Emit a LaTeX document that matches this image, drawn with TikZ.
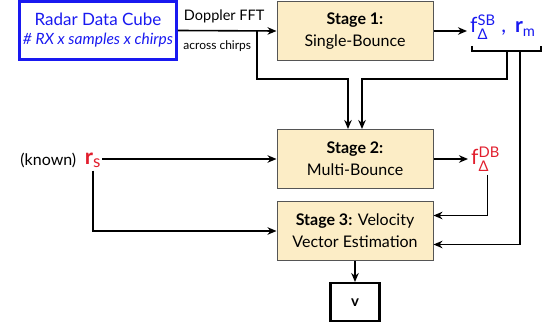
\documentclass[tikz,border=0pt]{standalone}
\usepackage{amsmath}
\usepackage{fontspec}
\setmainfont{Lato}
\usetikzlibrary{
        arrows,
        arrows.meta,
        positioning
    }
\definecolor{cubeblue}{RGB}{25,25,240}
\definecolor{estred}{RGB}{225,30,45}
\definecolor{stagefill}{RGB}{252,237,198}
\definecolor{stageline}{RGB}{85,85,85}
\tikzset{>={Stealth[length=9pt,width=7.5pt]},node distance=2cm}
\tikzset{
    stagebox/.style={draw=stageline, fill=stagefill, line width=1pt,
        minimum width=156pt, minimum height=59pt, align=center, inner sep=2pt,
        font=\fontsize{16}{22}\selectfont},
    cubebox/.style={draw=cubeblue, line width=2.8pt, text=cubeblue,
        minimum width=155pt, minimum height=58pt, align=center,
        font=\fontsize{17}{19}\selectfont},
    outbox/.style={draw, line width=2.4pt, minimum width=49pt, minimum height=38pt,
        font=\fontsize{15}{16}\selectfont\bfseries},
    wire/.style={line width=1.6pt},
    est/.style={font=\fontsize{21}{22}\selectfont, inner sep=3pt}
}

\begin{document}
\begin{tikzpicture}[x=1pt,y=-1pt]
            \useasboundingbox (0,0) rectangle (560,328);
            % input and the three stages
            \node[cubebox] (cube) at (98,30.5)
                {Radar Data Cube\\
                 {\fontsize{15.5}{16}\selectfont\itshape \# RX x samples x chirps}};
            \node[stagebox] (s1) at (355,31) {\textbf{Stage 1:}\\Single-Bounce};
            \node[stagebox, below=68pt of s1] (s2) {\textbf{Stage 2:}\\Multi-Bounce};
            \node[stagebox, below=12pt of s2] (s3) {\textbf{Stage 3:} Velocity\\Vector Estimation};
            \node[outbox, below=21pt of s3] (v) {v};
            % estimates
            \node[est, text=cubeblue, anchor=base west] (sbout) at (467,33)
                {f$^{\text{SB}}_{\text{Δ}}$\;,\, $\mathbf{r}_{\text{m}}$};
            \node[est, text=estred, anchor=base west] (dbout) at (468,165)
                {f$^{\text{DB}}_{\text{Δ}}$};
            \node[font=\fontsize{22}{22}\selectfont, text=estred, inner sep=1pt] (rs) at (93,160)
                {$\mathbf{r}_{\text{\fontsize{17}{17}\selectfont s}}$};
            \node[left=4pt of rs, font=\fontsize{16}{18}\selectfont] (known) {(known)};
            % bracket under the stage 1 outputs
            \draw[line width=1.2pt] (472,46) -- (472,51) -- (541,51) -- (541,46);
            \coordinate (tapf) at (507,51);
            \coordinate (tapr) at (520,51);
            \coordinate (fftsplit) at (257,30.5);
            \coordinate (in2a) at ([xshift=-7pt]s2.north);
            \coordinate (in2b) at ([xshift=7pt]s2.north);
            \coordinate (in3a) at ([yshift=15.5pt]s3.east);
            \coordinate (in3b) at ([yshift=-13.5pt]s3.east);
            \draw[wire,->] (cube.east) -- node[above=4pt, pos=0.47, font=\fontsize{14.5}{16}\selectfont] {Doppler FFT}
                node[below=6pt, pos=0.4, font=\fontsize{12}{14}\selectfont] {across chirps} (s1.west);
            \draw[wire,->] (fftsplit) |- (in2a |- 0,79) -- (in2a);
            \draw[wire,->] (tapf) |- (in2b |- 0,79) -- (in2b);
            \draw[wire,->] (tapr) |- (in3b);
            \draw[wire,->] (s1.east) -- (sbout.west |- s1.east);
            \draw[wire,->] (s2.east) -- (dbout.west |- s2.east);
            \draw[wire,->] ([xshift=2pt]dbout.south) |- (in3a);
            \draw[wire,->] (rs.east |- s2.west) -- (s2.west);
            \draw[wire,->] ([yshift=-2pt]rs.south) |- (s3.west);
            \draw[wire,->] (s3.south) -- (v.north);
        \end{tikzpicture}
\end{document}
